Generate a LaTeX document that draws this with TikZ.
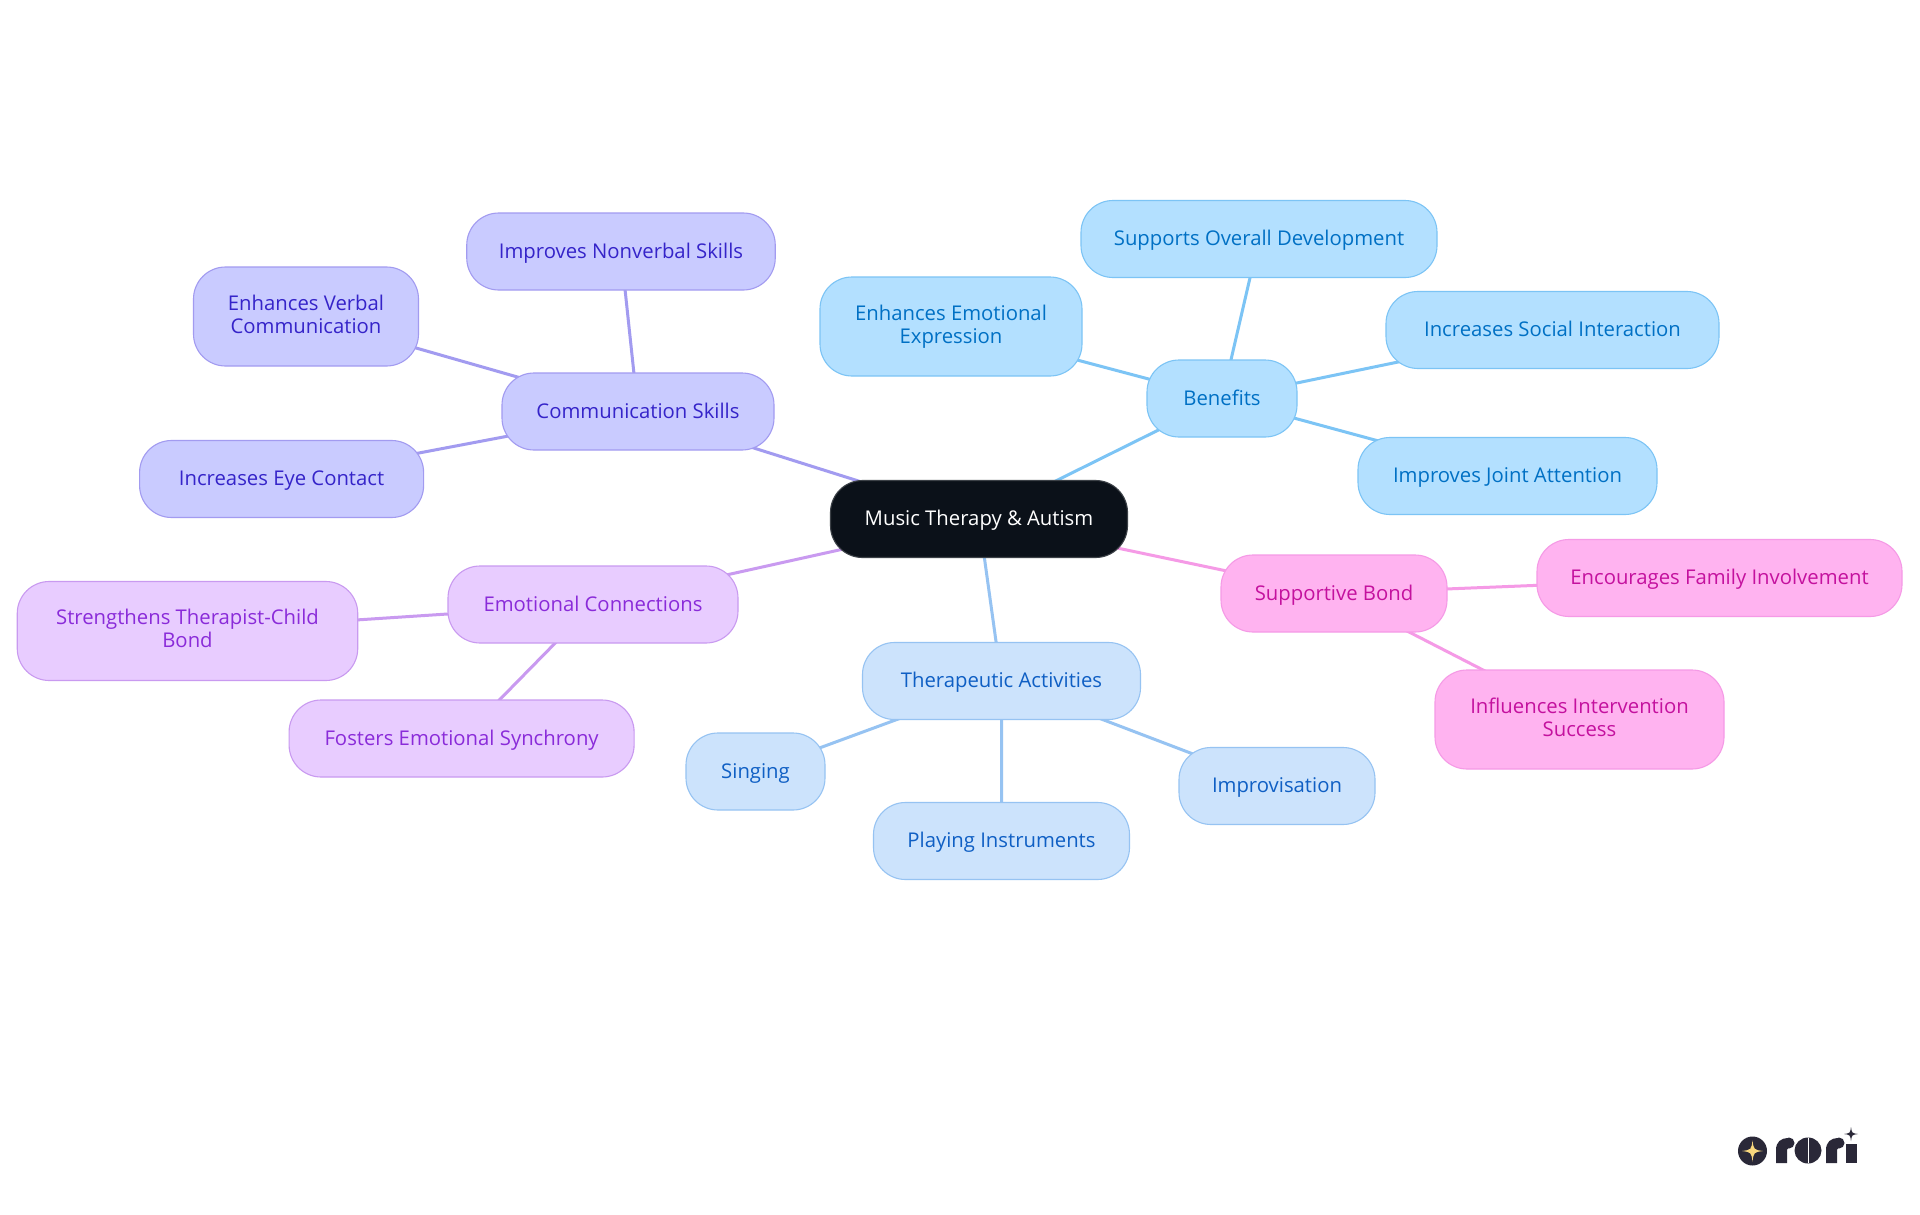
\documentclass[tikz,border=0pt]{standalone}
\usepackage{fontspec}
\setmainfont{Open Sans}
\usetikzlibrary{backgrounds}
\definecolor{rootfill}{HTML}{0B1119}
\definecolor{bF}{HTML}{B3E0FF}\definecolor{bD}{HTML}{7CC4F5}\definecolor{bT}{HTML}{0070C4}
\definecolor{tF}{HTML}{CCE3FC}\definecolor{tD}{HTML}{96C3F2}\definecolor{tT}{HTML}{0F5FC4}
\definecolor{cF}{HTML}{C9CBFF}\definecolor{cD}{HTML}{A29BF0}\definecolor{cT}{HTML}{3524C9}
\definecolor{eF}{HTML}{E8CCFF}\definecolor{eD}{HTML}{C99AF0}\definecolor{eT}{HTML}{8A2BD9}
\definecolor{sF}{HTML}{FFB3F0}\definecolor{sD}{HTML}{F59AE6}\definecolor{sT}{HTML}{C4119E}
\definecolor{logoD}{HTML}{2A2838}\definecolor{logoG}{HTML}{F8D77E}
\newcommand{\tA}{\rule{0pt}{16pt}}
\newcommand{\tB}{\rule[-5.4pt]{0pt}{5.4pt}}
\tikzset{
 mm/.style={rectangle,rounded corners=32pt,inner sep=0pt,line width=1.1pt,minimum height=77pt,font=\fontsize{20.3}{23}\selectfont},
 one/.style={mm,text height=18.5pt,text depth=5.5pt},
 two/.style={mm,align=center,minimum height=99pt},
 benefit/.style={draw=bD,fill=bF,text=bT},
 therapy/.style={draw=tD,fill=tF,text=tT},
 comm/.style={draw=cD,fill=cF,text=cT},
 emo/.style={draw=eD,fill=eF,text=eT},
 supp/.style={draw=sD,fill=sF,text=sT},
 root/.style={one,draw=rootfill!80!white,fill=rootfill,text=white},
 link/.style={line width=3pt},
}
\newcommand{\starshape}[4]{% x y r colour
 \fill[#4] (#1,#2-#3) .. controls (#1+0.12*#3,#2-0.12*#3) .. (#1+#3,#2)
  .. controls (#1+0.12*#3,#2+0.12*#3) .. (#1,#2+#3)
  .. controls (#1-0.12*#3,#2+0.12*#3) .. (#1-#3,#2)
  .. controls (#1-0.12*#3,#2-0.12*#3) .. cycle;}
\begin{document}
\begin{tikzpicture}[x=1pt,y=-1pt]
\useasboundingbox (0,0) rectangle (1920,1215);
\node[root,minimum width=297pt] (R) at (979,519) {Music Therapy \& Autism};
% Benefits
\node[one,benefit,minimum width=150pt] (B) at (1222,398.5) {Benefits};
\node[two,benefit,minimum width=262pt] (B1) at (951,326.5) {\tA Enhances Emotional\\Expression\tB};
\node[one,benefit,minimum width=356pt] (B2) at (1259,239) {Supports Overall Development};
\node[one,benefit,minimum width=333pt] (B3) at (1552.5,330) {Increases Social Interaction};
\node[one,benefit,minimum width=299pt] (B4) at (1507.5,476) {Improves Joint Attention};
% Communication
\node[one,comm,minimum width=272pt] (C) at (638,411.5) {Communication Skills};
\node[one,comm,minimum width=308.5pt] (C1) at (621,251.5) {Improves Nonverbal Skills};
\node[two,comm,minimum width=225pt] (C2) at (306,316.5) {\tA Enhances Verbal\\Communication\tB};
\node[one,comm,minimum width=284pt] (C3) at (281.6,479) {Increases Eye Contact};
% Emotional
\node[one,emo,minimum width=290pt] (E) at (593,604.5) {Emotional Connections};
\node[two,emo,minimum width=340.5pt] (E1) at (187.5,631) {\tA Strengthens Therapist-Child\\Bond\tB};
\node[one,emo,minimum width=345pt] (E2) at (461.6,738.5) {Fosters Emotional Synchrony};
% Therapeutic
\node[one,therapy,minimum width=278pt] (T) at (1001.5,681) {Therapeutic Activities};
\node[one,therapy,minimum width=139pt] (T1) at (755.5,771.5) {Singing};
\node[one,therapy,minimum width=256pt] (T2) at (1001.5,841) {Playing Instruments};
\node[one,therapy,minimum width=196pt] (T3) at (1277,786) {Improvisation};
% Supportive
\node[one,supp,minimum width=226pt] (S) at (1334,593.5) {Supportive Bond};
\node[one,supp,minimum width=365pt] (S1) at (1719.5,578) {Encourages Family Involvement};
\node[two,supp,minimum width=289pt] (S2) at (1579.5,719.5) {\tA Influences Intervention\\Success\tB};
\begin{scope}[on background layer]
 \fill[white] (0,0) rectangle (1920,1215);
 \draw[link,bD] (R.center)--(B.center) (B.center)--(B1.center) (B.center)--(B2.center) (B.center)--(B3.center) (B.center)--(B4.center);
 \draw[link,cD] (R.center)--(C.center) (C.center)--(C1.center) (C.center)--(C2.center) (C.center)--(C3.center);
 \draw[link,eD] (R.center)--(E.center) (E.center)--(E1.center) (E.center)--(E2.center);
 \draw[link,tD] (R.center)--(T.center) (T.center)--(T1.center) (T.center)--(T2.center) (T.center)--(T3.center);
 \draw[link,sD] (R.center)--(S.center) (S.center)--(S1.center) (S.center)--(S2.center);
\end{scope}
% logo
\fill[logoD] (1752.5,1151) circle (14.5);
\starshape{1752.5}{1151}{10.5}{logoG}
\fill[logoD] (1776,1163) -- (1776,1150) .. controls (1776,1142) and (1781,1138) .. (1788,1138) -- (1788,1149) -- (1787,1149) -- (1787,1163) -- cycle;
\fill[logoD] (1789,1143) circle (5.5);
\fill[logoD] (1808,1150.5) ellipse (13.5 and 13);
\draw[white,line width=1pt] (1808,1138) -- (1808,1163);
\fill[logoD] (1826,1163) -- (1826,1150) .. controls (1826,1142) and (1831,1138) .. (1838,1138) -- (1838,1149) -- (1837,1149) -- (1837,1163) -- cycle;
\fill[logoD] (1839,1143) circle (5.5);
\fill[logoD] (1846,1163) -- (1846,1144) -- (1857,1144) -- (1857,1163) -- cycle;
\starshape{1851}{1134}{7}{logoD}
\end{tikzpicture}
\end{document}
